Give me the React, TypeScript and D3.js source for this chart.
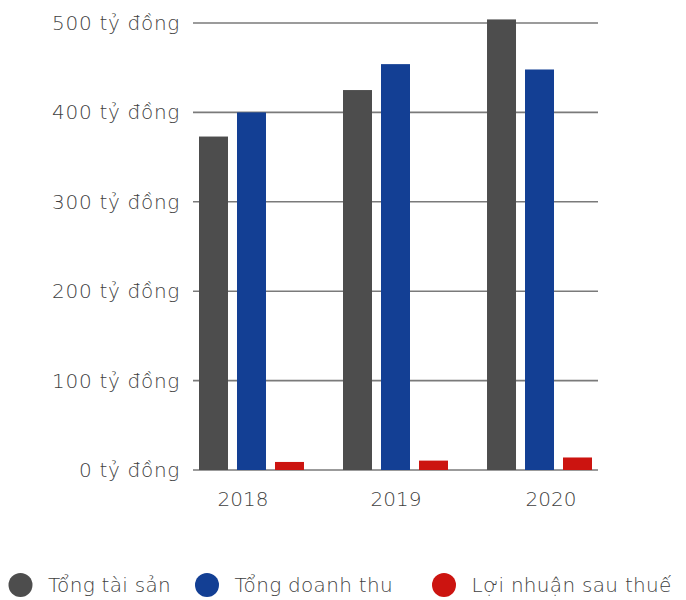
import React from "react";
import * as d3 from "d3";

const years = ["2018", "2019", "2020"];
const series = ["Tổng tài sản", "Tổng doanh thu", "Lợi nhuận sau thuế"];
const colors = ["#4d4d4d", "#133f94", "#cc1410"];
const tongTaiSan = [373, 425, 504];
const tongDoanhThu = [400, 454, 448];
const loiNhuan = [9, 10.5, 14];
const yTicks = [0, 100, 200, 300, 400, 500];
const tickSuffix = " tỷ đồng";

const values = [tongTaiSan, tongDoanhThu, loiNhuan];

export default function App() {
  const W = 686, H = 600;
  const gridX0 = 193, gridX1 = 598;
  const y = d3.scaleLinear().domain([0, 500]).range([470, 23]);
  const x0 = d3.scaleBand<string>().domain(years).range([199, 592]).paddingInner(0.271).paddingOuter(0);
  const x1 = d3.scaleBand<string>().domain(series).range([0, x0.bandwidth()]).paddingInner(0.237);
  const font = "'DejaVu Sans', sans-serif";
  const labelCenters = [243, 396, 551];
  const legendX = [20.5, 207, 444];
  const fs = 20;
  const fc = "#3f3f3f";
  const ls = 0.7;
  return (
    <svg width={W} height={H} style={{ position: "absolute", left: 0, top: 0 }} fontFamily={font}>
      <rect width={W} height={H} fill="#fff" />
      {yTicks.map((t) => (
        <g key={t}>
          <line x1={gridX0} x2={gridX1} y1={y(t)} y2={y(t)} stroke="#7a7a7a" strokeWidth={1.6} />
          <text x={180} y={y(t)} dy="0.35em" textAnchor="end" fontSize={fs} fill={fc} fontWeight={200} letterSpacing={ls}>
            {t + tickSuffix}
          </text>
        </g>
      ))}
      {years.map((yr, i) => (
        <g key={yr} transform={`translate(${x0(yr)},0)`}>
          {series.map((s, j) => (
            <rect key={s} x={x1(s)} width={x1.bandwidth()} y={y(values[j][i])} height={y(0) - y(values[j][i])} fill={colors[j]} />
          ))}
        </g>
      ))}
      {years.map((yr, i) => (
        <text key={yr} x={labelCenters[i]} y={506} textAnchor="middle" fontSize={fs} fill={fc} fontWeight={200}>
          {yr}
        </text>
      ))}
      {series.map((s, j) => (
        <g key={s}>
          <circle cx={legendX[j]} cy={585} r={12} fill={colors[j]} />
          <text x={legendX[j] + 27.5} y={585} dy="0.35em" fontSize={fs} fill={fc} fontWeight={200} letterSpacing={0.3}>
            {s}
          </text>
        </g>
      ))}
    </svg>
  );
}
